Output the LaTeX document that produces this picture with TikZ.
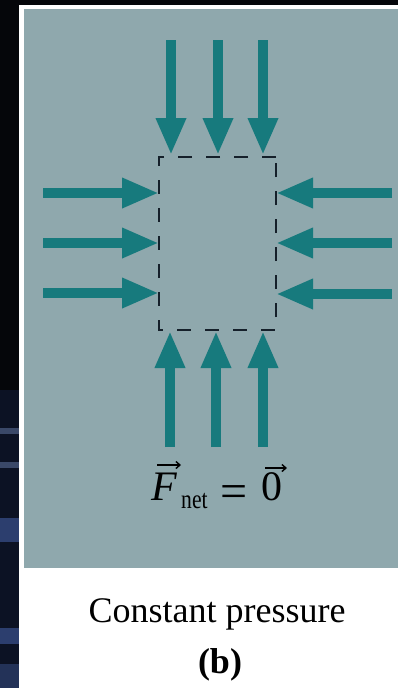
\documentclass[tikz,border=0pt]{standalone}
\usepackage{fontspec}
\setmainfont{Liberation Serif}
\usetikzlibrary{arrows.meta}
\definecolor{panelgray}{HTML}{8FA8AD}
\definecolor{arrowteal}{HTML}{177A7D}
\definecolor{dashcol}{HTML}{15202A}
\definecolor{framedark}{HTML}{05060A}
\definecolor{stripnavy}{HTML}{0C1224}
\definecolor{streaklight}{HTML}{3A4868}
\definecolor{streakblue}{HTML}{2C3E6E}
\begin{document}
\begin{tikzpicture}[x=1pt,y=-1pt,
  force/.style={line width=9.5pt, draw=arrowteal, -{Triangle[length=37pt,width=28pt]}},
  boxline/.style={draw=dashcol, line width=2.6pt, dash pattern=on 14pt off 14pt},
  vecarrow/.style={line width=1.4pt, -{Straight Barb[length=4pt,width=7pt]}},
  eqtext/.style={inner sep=0pt, font=\fontsize{42}{48}\selectfont},
  eqsign/.style={inner sep=0pt, font=\fontsize{48}{54}\selectfont},
  subtext/.style={inner sep=0pt, font=\fontsize{27}{30}\selectfont},
  captext/.style={inner sep=0pt, font=\fontsize{36}{42}\selectfont}]
\useasboundingbox (0,0) rectangle (398,688);
% frame and background
\fill[framedark] (0,0) rectangle (398,688);
\fill[stripnavy] (0,390) rectangle (19,688);
\fill[streaklight] (0,428) rectangle (19,434);
\fill[streaklight] (0,462) rectangle (19,468);
\fill[streakblue] (0,518) rectangle (19,542);
\fill[streakblue] (0,628) rectangle (19,644);
\fill[streakblue!80!black] (0,664) rectangle (19,688);
\fill[white] (19,5) rectangle (398,688);
\fill[panelgray] (24,9) rectangle (398,568);
% dashed region
\node[minimum width=117pt, minimum height=173pt, inner sep=0pt, outer sep=0pt] (box) at (217.5,243.5) {};
\draw[boxline] (box.north east) -- (box.north west) -- (box.south west) -- (box.south east) -- cycle;
% top forces
\coordinate (t1) at (171,40); \coordinate (t1e) at (171,155);
\coordinate (t2) at (218,40); \coordinate (t2e) at (218,155);
\coordinate (t3) at (263,40); \coordinate (t3e) at (263,155);
\draw[force] (t1) -- (t1e);
\draw[force] (t2) -- (t2e);
\draw[force] (t3) -- (t3e);
% bottom forces
\coordinate (b1) at (170,447); \coordinate (b1e) at (170,331);
\coordinate (b2) at (216,447); \coordinate (b2e) at (216,331);
\coordinate (b3) at (263,447); \coordinate (b3e) at (263,331);
\draw[force] (b1) -- (b1e);
\draw[force] (b2) -- (b2e);
\draw[force] (b3) -- (b3e);
% left forces
\coordinate (l1) at (43,193); \coordinate (l1e) at (159,193);
\coordinate (l2) at (43,243); \coordinate (l2e) at (159,243);
\coordinate (l3) at (43,293); \coordinate (l3e) at (159,293);
\draw[force] (l1) -- (l1e);
\draw[force] (l2) -- (l2e);
\draw[force] (l3) -- (l3e);
% right forces
\coordinate (r1) at (392,193); \coordinate (r1e) at (276,193);
\coordinate (r2) at (392,243); \coordinate (r2e) at (276,243);
\coordinate (r3) at (392,294); \coordinate (r3e) at (276,294);
\draw[force] (r1) -- (r1e);
\draw[force] (r2) -- (r2e);
\draw[force] (r3) -- (r3e);
% equation
\node[eqtext, anchor=base west] (F) at (151,500) {\itshape F};
\node[subtext, anchor=base west] (net) at (181,508) {\scalebox{0.8}[1]{net}};
\node[eqsign, anchor=base] (eq) at (234,507) {=};
\node[eqtext, anchor=base west] (zero) at (261,500) {0};
\coordinate (fa) at (157,465); \coordinate (fb) at (181,465);
\coordinate (za) at (265,468); \coordinate (zb) at (287,468);
\draw[vecarrow] (fa) -- (fb);
\draw[vecarrow] (za) -- (zb);
% caption
\node[captext, anchor=base] (cap) at (217,622) {Constant pressure};
\node[captext, anchor=base] (lab) at (220,673) {\bfseries (b)};
\end{tikzpicture}
\end{document}
